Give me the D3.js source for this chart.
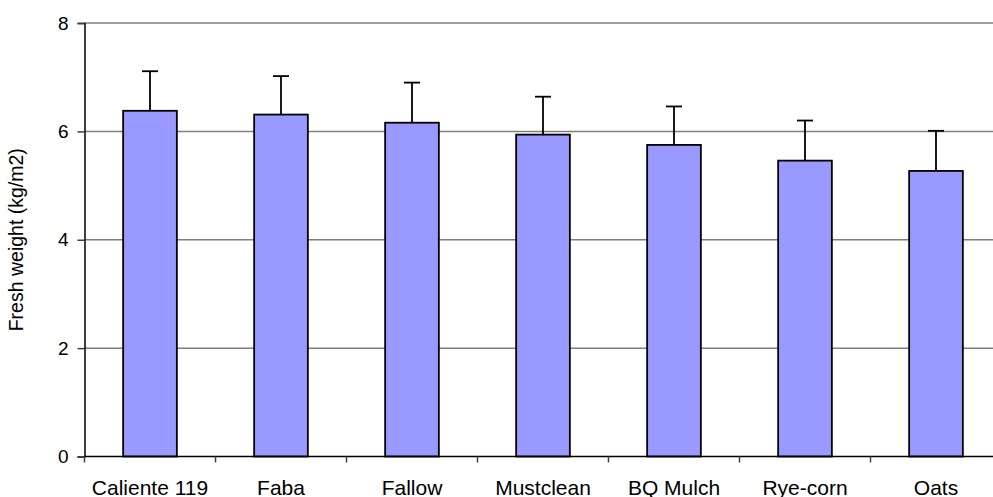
<!DOCTYPE html>
<html><head><meta charset="utf-8">
<script src="https://cdn.jsdelivr.net/npm/d3@7"></script>
<style>body{margin:0;background:#fff;overflow:hidden}svg{display:block}</style>
</head><body>
<svg id="chart" width="993" height="497"></svg>
<script>
const categories = ["Caliente 119","Faba","Fallow","Mustclean","BQ Mulch","Rye-corn","Oats"];
const values = [6.38, 6.31, 6.16, 5.94, 5.75, 5.46, 5.27];
const errors = [0.73, 0.71, 0.74, 0.70, 0.71, 0.74, 0.74];
const yTicks = [0, 2, 4, 6, 8];
const yTitle = "Fresh weight (kg/m2)";

const svg = d3.select("#chart");
const mLeft = 84.5, mRight = 1001.5, mTop = 23, mBottom = 456.5;
const x = d3.scaleBand().domain(categories).range([mLeft, mRight]).padding(0);
const y = d3.scaleLinear().domain([0, 8]).range([mBottom, mTop]);
const font = "'Liberation Sans', Arial, sans-serif";

// gridlines
svg.append("g").selectAll("line").data(yTicks.filter(d => d > 0)).join("line")
  .attr("x1", mLeft).attr("x2", mRight)
  .attr("y1", d => y(d)).attr("y2", d => y(d))
  .attr("stroke", "#808080").attr("stroke-width", 1.5);

// y axis
const yAxis = svg.append("g").attr("transform", `translate(${mLeft},0)`)
  .call(d3.axisLeft(y).tickValues(yTicks).tickFormat(d3.format("d")).tickSize(7).tickPadding(9));
yAxis.select(".domain").attr("stroke", "#000").attr("stroke-width", 1.5);
yAxis.selectAll(".tick line").attr("stroke", "#404040").attr("stroke-width", 1.5);
yAxis.selectAll("text").attr("font-family", font).attr("font-size", 19).attr("fill", "#000");

// bars
const bw = x.bandwidth() * 0.41;
svg.append("g").selectAll("rect").data(categories).join("rect")
  .attr("x", d => x(d) + x.bandwidth() / 2 - bw / 2)
  .attr("width", bw)
  .attr("y", (d, i) => y(values[i]))
  .attr("height", (d, i) => y(0) - y(values[i]))
  .attr("fill", "#9999ff").attr("stroke", "#000").attr("stroke-width", 1.8);

// error bars
const eg = svg.append("g").attr("stroke", "#000").attr("stroke-width", 1.8);
categories.forEach((c, i) => {
  const cx = x(c) + x.bandwidth() / 2;
  eg.append("line").attr("x1", cx).attr("x2", cx).attr("y1", y(values[i])).attr("y2", y(values[i] + errors[i]));
  eg.append("line").attr("x1", cx - 8).attr("x2", cx + 8).attr("y1", y(values[i] + errors[i])).attr("y2", y(values[i] + errors[i]));
});

// x axis
const xAxis = svg.append("g").attr("transform", `translate(0,${mBottom})`);
xAxis.append("line").attr("x1", mLeft).attr("x2", mRight).attr("stroke", "#000").attr("stroke-width", 1.5);
const edges = categories.map(c => x(c)).concat([mRight]);
xAxis.selectAll("line.tk").data(edges).join("line").attr("class", "tk")
  .attr("x1", d => d).attr("x2", d => d).attr("y1", 0).attr("y2", 6)
  .attr("stroke", "#404040").attr("stroke-width", 1.5);
xAxis.selectAll("text").data(categories).join("text")
  .attr("x", d => x(d) + x.bandwidth() / 2).attr("y", 38)
  .attr("text-anchor", "middle").attr("font-family", font).attr("font-size", 21)
  .text(d => d);

// y title
svg.append("text").attr("transform", `translate(23,${(mTop + mBottom) / 2}) rotate(-90)`)
  .attr("text-anchor", "middle").attr("font-family", font).attr("font-size", 19.5)
  .text(yTitle);
</script>
</body></html>
